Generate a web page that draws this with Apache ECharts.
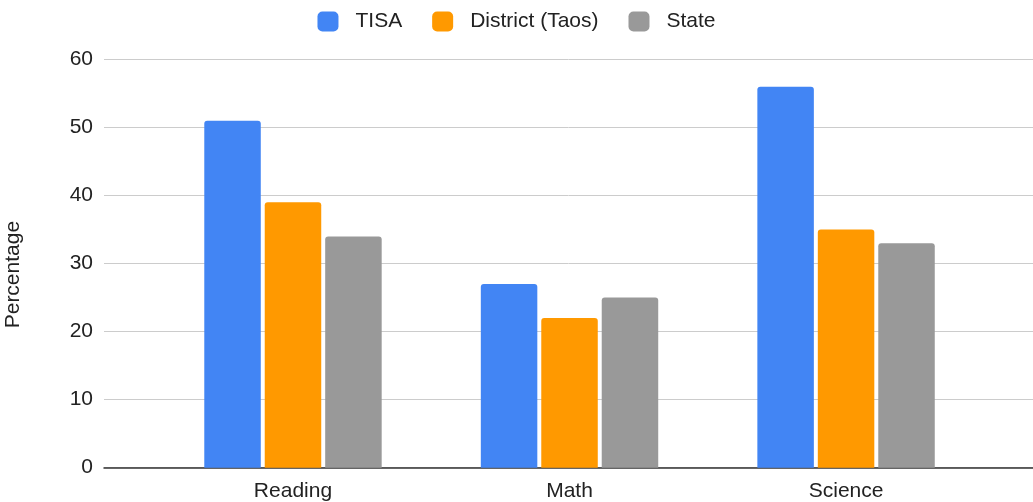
<!DOCTYPE html>
<html>
<head>
<meta charset="utf-8">
<style>
html,body{margin:0;padding:0;background:#fff;}
#chart{width:1033px;height:502px;}
</style>
<script src="https://cdn.jsdelivr.net/npm/echarts@6/dist/echarts.min.js"></script>
</head>
<body>
<div id="chart"></div>
<script>
const categories = ['Reading', 'Math', 'Science'];
const seriesNames = ['TISA', 'District (Taos)', 'State'];
const tisa = [51, 27, 56];
const district = [39, 22, 35];
const state = [34, 25, 33];
const yTicks = [0, 10, 20, 30, 40, 50, 60];

const colors = ['#4285F4', '#FF9900', '#999999'];
const values = [tisa, district, state];
const FONT = '"Liberation Sans", Arial, sans-serif';

const chart = echarts.init(document.getElementById('chart'), null, {renderer: 'canvas'});
chart.setOption({
  animation: false,
  color: colors,
  textStyle: {fontFamily: FONT},
  legend: {
    top: 6,
    left: 'center',
    itemWidth: 21,
    itemHeight: 20,
    itemGap: 30,
    icon: 'roundRect',
    textStyle: {fontSize: 21, color: '#222', fontFamily: FONT, padding: [0, 0, 0, 12]},
    data: seriesNames
  },
  grid: {left: 104, right: 0, top: 59.5, bottom: 34.3, containLabel: false, outerBoundsMode: 'none'},
  xAxis: {
    type: 'value',
    min: -0.6834,
    max: 2.676,
    splitLine: {show: false},
    axisTick: {show: false},
    axisLine: {show: true, onZero: false, lineStyle: {color: '#333', width: 1.5}},
    axisLabel: {
      customValues: [0, 1, 2],
      formatter: v => categories[Math.round(v)] || '',
      fontSize: 21, color: '#222', margin: 13, fontFamily: FONT
    }
  },
  yAxis: {
    type: 'value',
    min: yTicks[0],
    max: yTicks[yTicks.length - 1],
    interval: 10,
    name: 'Percentage',
    nameLocation: 'middle',
    nameGap: 80,
    nameTextStyle: {fontSize: 21, color: '#222', fontFamily: FONT, padding: [0, 22, 0, 0]},
    axisLine: {show: false},
    axisTick: {show: false},
    splitLine: {lineStyle: {color: '#cccccc', width: 1}},
    axisLabel: {fontSize: 21, color: '#222', margin: 11, fontFamily: FONT}
  },
  series: seriesNames.map((name, s) => ({
    name: name,
    type: 'bar',
    barWidth: 56.5,
    barGap: '7%',
    itemStyle: {color: colors[s], borderRadius: [3, 3, 0, 0]},
    data: values[s].map((v, i) => [i, v])
  }))
});
</script>
</body>
</html>
